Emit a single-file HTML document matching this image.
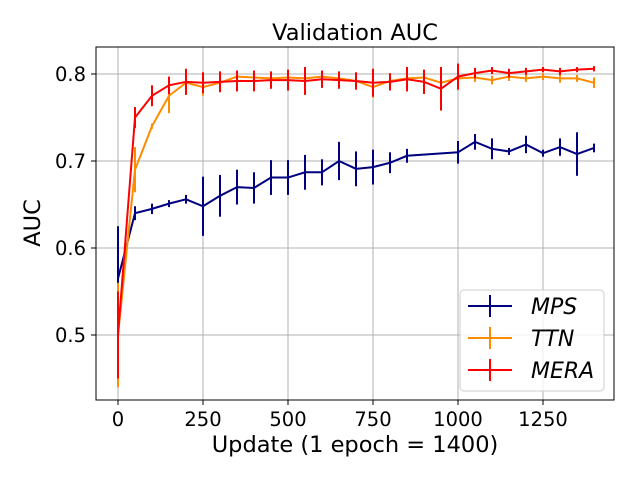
<!DOCTYPE html>
<html><head><meta charset="utf-8"><style>
body{margin:0;background:#fff;font-family:"Liberation Sans","DejaVu Sans",sans-serif}
</style></head><body>
<svg id="chart" width="640" height="480" xmlns="http://www.w3.org/2000/svg" style="font-family:'DejaVu Sans','Liberation Sans',sans-serif">
<rect width="640" height="480" fill="#fff"/>
<g id="grid"></g>
<g id="series"></g>
<rect x="96" y="47" width="518" height="353" fill="none" stroke="#000" stroke-width="1"/>
<g id="ticks"></g>
<text x="355" y="40" text-anchor="middle" font-size="22.5">Validation AUC</text>
<text x="355" y="452" text-anchor="middle" font-size="22.5">Update (1 epoch = 1400)</text>
<text transform="translate(40,223) rotate(-90)" text-anchor="middle" font-size="22.5">AUC</text>
<g>
<rect x="460" y="290" width="144" height="101" rx="4" fill="#fff" fill-opacity="0.8" stroke="#ccc"/>
<g id="legend-items"></g>
</g>
</svg>
<script>
const xMPS=[0,50,100,150,200,250,300,350,400,450,500,550,600,650,700,750,800,850,1000,1050,1100,1150,1200,1250,1300,1350,1400];
const mps=[0.565,0.64,0.645,0.651,0.656,0.648,0.66,0.67,0.669,0.681,0.681,0.687,0.687,0.7,0.691,0.693,0.698,0.706,0.71,0.722,0.714,0.711,0.719,0.709,0.716,0.708,0.715];
const mpsErr=[0.06,0.008,0.006,0.004,0.005,0.034,0.024,0.02,0.018,0.02,0.02,0.02,0.015,0.022,0.02,0.02,0.012,0.008,0.013,0.009,0.012,0.004,0.01,0.004,0.01,0.025,0.005];
const xAll=[0,50,100,150,200,250,300,350,400,450,500,550,600,650,700,750,800,850,900,950,1000,1050,1100,1150,1200,1250,1300,1350,1400];
const ttn=[0.5,0.69,0.74,0.775,0.79,0.785,0.79,0.797,0.796,0.795,0.796,0.795,0.797,0.795,0.792,0.785,0.792,0.795,0.796,0.79,0.795,0.796,0.793,0.797,0.795,0.797,0.795,0.795,0.79];
const ttnErr=[0.06,0.026,0.003,0.02,0.003,0.01,0.004,0.005,0.004,0.003,0.003,0.004,0.003,0.003,0.003,0.012,0.004,0.003,0.003,0.004,0.003,0.005,0.005,0.005,0.004,0.004,0.005,0.004,0.006];
const mera=[0.5,0.75,0.775,0.787,0.791,0.79,0.791,0.792,0.792,0.793,0.793,0.792,0.794,0.793,0.792,0.79,0.791,0.794,0.791,0.783,0.797,0.801,0.804,0.801,0.803,0.805,0.803,0.805,0.806];
const meraErr=[0.05,0.012,0.012,0.01,0.015,0.012,0.012,0.012,0.012,0.01,0.012,0.016,0.01,0.01,0.01,0.016,0.01,0.014,0.014,0.025,0.015,0.006,0.004,0.005,0.004,0.003,0.004,0.003,0.003];
const xTicks=[0,250,500,750,1000,1250];
const yTicks=[0.5,0.6,0.7,0.8];
const NS="http://www.w3.org/2000/svg";
const X=v=>118+v*0.34, Y=v=>74+(0.8-v)*870;
function mk(t,a,p){const e=document.createElementNS(NS,t);for(const k in a)e.setAttribute(k,a[k]);p.appendChild(e);return e;}
const grid=document.getElementById('grid'),ticks=document.getElementById('ticks');
xTicks.forEach(t=>{
 const g=mk('line',{x1:X(t),x2:X(t),y1:47,y2:400,stroke:'#b0b0b0','stroke-width':1},grid);
 
 
 mk('line',{x1:X(t),x2:X(t),y1:400,y2:405,stroke:'#000'},ticks);
 const l=mk('text',{x:X(t),y:426,'text-anchor':'middle','font-size':19.5},ticks);l.textContent=t;
 
 
});
yTicks.forEach(t=>{
 const g=mk('line',{x1:96,x2:614,y1:Y(t),y2:Y(t),stroke:'#b0b0b0','stroke-width':1},grid);
 
 
 mk('line',{x1:91,x2:96,y1:Y(t),y2:Y(t),stroke:'#000'},ticks);
 const l=mk('text',{x:86,y:Y(t)+7,'text-anchor':'end','font-size':19.5},ticks);l.textContent=t.toFixed(1);
 
 
});
const ser=document.getElementById('series');
function draw(xs,ys,es,col,name){
 const g=mk('g',{},ser);
 
 
 mk('polyline',{points:xs.map((x,i)=>X(x)+','+Y(ys[i])).join(' '),fill:'none',stroke:col,'stroke-width':2},g);
 xs.forEach((x,i)=>{
  const b=mk('line',{x1:X(x),x2:X(x),y1:Y(ys[i]-es[i]),y2:Y(ys[i]+es[i]),stroke:col,'stroke-width':2},g);
  
  
 });
}
draw(xMPS,mps,mpsErr,'#000080','mps');
draw(xAll,ttn,ttnErr,'#ff8c00','ttn');
draw(xAll,mera,meraErr,'#ff0000','mera');
const leg=document.getElementById('legend-items');
[['MPS','#000080'],['TTN','#ff8c00'],['MERA','#ff0000']].forEach((d,i)=>{
 const y=306+i*32;
 const g=mk('g',{},leg);
 
 
 mk('line',{x1:468,x2:512,y1:y,y2:y,stroke:d[1],'stroke-width':2},g);
 mk('line',{x1:490,x2:490,y1:y-11,y2:y+11,stroke:d[1],'stroke-width':2},g);
 const t=mk('text',{x:531,y:y+8,'font-size':22,'font-style':'italic'},g);t.textContent=d[0];
});
</script>
</body></html>
